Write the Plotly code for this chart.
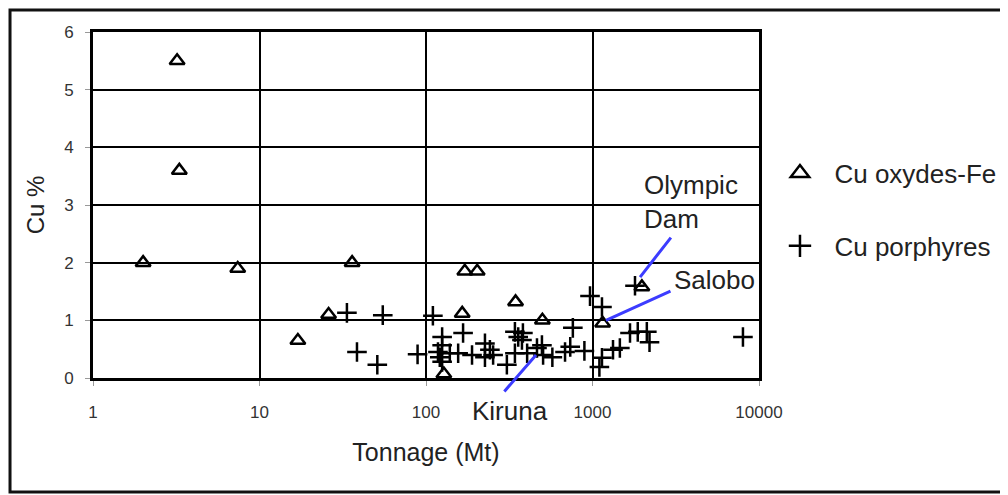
import math
import plotly.graph_objects as go

# Cu oxydes-Fe (triangles)
oxy_tonnage = [3.2, 3.3, 2.0, 7.4, 36, 17, 26, 171, 203, 165, 345, 500, 128, 1980, 1150]
oxy_cu = [5.5, 3.6, 2.0, 1.9, 2.0, 0.65, 1.1, 1.85, 1.85, 1.12, 1.32, 1.0, 0.07, 1.58, 0.95]

# Cu porphyres (crosses)
por_tonnage = [33.5, 55, 38.5, 51, 89, 110, 167, 125, 125, 118, 121, 125, 139, 156,
               189, 226, 226, 242, 253, 306, 342, 342, 358, 377, 382, 405, 464, 497,
               505, 574, 684, 735, 762, 894, 966, 1140, 1140, 1100, 1328, 1460, 1680,
               1870, 2120, 2200, 8010, 1800]
por_cu = [1.13, 1.09, 0.45, 0.23, 0.41, 1.08, 0.78, 0.71, 0.57, 0.45, 0.36, 0.28, 0.43, 0.43,
          0.40, 0.60, 0.36, 0.49, 0.40, 0.23, 0.43, 0.80, 0.71, 0.66, 0.78, 0.43, 0.52, 0.57,
          0.40, 0.36, 0.45, 0.54, 0.87, 0.47, 1.42, 1.23, 0.35, 0.19, 0.49, 0.52, 0.78,
          0.80, 0.80, 0.62, 0.71, 1.60]

x_ticks = [1, 10, 100, 1000, 10000]
y_ticks = [0, 1, 2, 3, 4, 5, 6]

FONT = "Liberation Sans, Arial, sans-serif"
BLUE = "#3c3cff"
NB = "\u00a0\u00a0"

fig = go.Figure()

fig.add_trace(go.Scatter(
    x=oxy_tonnage, y=oxy_cu, mode="markers", showlegend=False,
    marker=dict(symbol="triangle-up-open", size=13, color="black",
                line=dict(width=2.5, color="black")),
))
fig.add_trace(go.Scatter(
    x=por_tonnage, y=por_cu, mode="markers", showlegend=False,
    marker=dict(symbol="cross-thin", size=14, color="black",
                line=dict(width=2.5, color="black")),
))

# legend entries (bigger symbols than in the plot)
fig.add_trace(go.Scatter(
    x=[None], y=[None], mode="markers", name=NB + "Cu oxydes-Fe", legendgroup="a",
    marker=dict(symbol="triangle-up-open", size=16, color="black",
                line=dict(width=2.5, color="black")),
))
fig.add_trace(go.Scatter(
    x=[None], y=[None], mode="markers", name=NB + "Cu porphyres", legendgroup="b",
    marker=dict(symbol="cross-thin", size=16, color="black",
                line=dict(width=2.5, color="black")),
))

# pointer lines to named deposits
pointers = [
    (1930, 1.75, 32, -41),   # Olympic Dam
    (1205, 1.0, 66, -30),    # Salobo
    (458, 0.40, -33, 38),    # Kiruna
]
for px, py, ax, ay in pointers:
    fig.add_annotation(x=math.log10(px), y=py, xref="x", yref="y", text="",
                       showarrow=True, arrowhead=0, arrowwidth=3, arrowcolor=BLUE,
                       ax=ax, ay=ay, standoff=0, startstandoff=0)

lab_font = dict(family=FONT, size=26, color="#222")
fig.add_annotation(x=3.30, y=3.05, xref="x", yref="y", text="Olympic<br>Dam",
                   showarrow=False, xanchor="left", yanchor="middle", align="left",
                   font=lab_font)
fig.add_annotation(x=3.477, y=1.70, xref="x", yref="y", text="Salobo",
                   showarrow=False, xanchor="left", yanchor="middle", font=lab_font)
fig.add_annotation(x=2.505, y=-0.095, xref="x", yref="paper", text="Kiruna",
                   showarrow=False, xanchor="center", yanchor="middle", font=lab_font)

# outer frame of the figure
fig.add_shape(type="rect", xref="paper", yref="paper",
              x0=-0.1246, x1=1.40, y0=-0.3295, y1=1.0636,
              line=dict(color="#111", width=3))

axis_common = dict(
    showline=True, linecolor="black", linewidth=3, mirror=True,
    showgrid=True, gridcolor="black", gridwidth=2,
    ticks="outside", ticklen=5, tickcolor="#999", tickwidth=1,
    tickfont=dict(family=FONT, size=17, color="#333"),
    zeroline=False,
)

fig.update_layout(
    width=1000, height=487,
    margin=dict(l=85, r=249, t=24, b=117, autoexpand=False),
    paper_bgcolor="white", plot_bgcolor="white",
    font=dict(family=FONT, color="#222"),
    xaxis=dict(
        type="log", range=[0, 4], tickvals=x_ticks, ticktext=[str(v) for v in x_ticks],
        title=dict(text="Tonnage (Mt)", font=dict(family=FONT, size=25, color="#222"),
                   standoff=23),
        ticklabelstandoff=12,
        **axis_common,
    ),
    yaxis=dict(
        range=[0, 6], tickvals=y_ticks,
        title=dict(text="Cu %", font=dict(family=FONT, size=24, color="#222"),
                   standoff=13),
        ticklabelstandoff=8,
        **axis_common,
    ),
    legend=dict(
        x=1.0315, y=0.66, xanchor="left", yanchor="top",
        font=dict(family=FONT, size=26, color="#222"),
        traceorder="grouped", tracegroupgap=36,
        bgcolor="rgba(0,0,0,0)",
    ),
    showlegend=True,
)

fig.write_html("out.html")
